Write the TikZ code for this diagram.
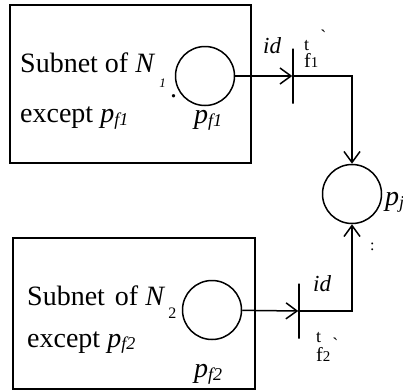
\documentclass[tikz,border=0pt]{standalone}
\usepackage{fontspec}
\setmainfont{Liberation Serif}
\usetikzlibrary{arrows.meta}
\newcommand{\lowsub}[3]{\raisebox{#1}{\fontsize{#2}{#2}\selectfont #3}}
\begin{document}
\begin{tikzpicture}[x=1pt,y=-1pt,
  place/.style={circle,draw,line width=1.5pt,minimum size=59pt,inner sep=0},
  trans/.style={draw,line width=1.5pt,minimum width=0pt,minimum height=55pt,inner sep=0},
  arc/.style={line width=1.5pt,-{Straight Barb[length=11pt,width=16pt,line width=1.5pt]}},
  lbl/.style={anchor=base west,inner sep=0,font=\fontsize{28}{30}\selectfont},
  sml/.style={anchor=base west,inner sep=0,font=\fontsize{22}{22}\selectfont}
]
\useasboundingbox (0,0) rectangle (403,391);
% boxes
\draw[line width=1.8pt] (10,5) rectangle (251,163);
\draw[line width=1.8pt] (13,238) rectangle (255,389);
% places and transitions
\node[place] (p1) at (205,76) {};
\node[place] (p2) at (212,310) {};
\node[place] (pj) at (352,194) {};
\node[trans] (t1) at (293,76) {};
\node[trans] (t2) at (299,311) {};
% arcs
\draw[arc] (p1) -- (t1);
\draw[arc] (p2) -- (t2);
\draw[arc] (t1.center) -| (pj);
\draw[arc] (t2.center) -| (pj);
% box 1 texts
\node[lbl] (s1) at (20,72) {Subnet of \textit{N}\hspace{4pt}\lowsub{-15pt}{13}{\itshape 1}};
\node[lbl] (d1) at (170,97) {.};
\node[lbl] (e1) at (20,122) {except \textit{p}\lowsub{-3pt}{18}{\itshape f1}};
\node[lbl] (q1) at (194,123) {\textit{p}\lowsub{-3pt}{18}{\itshape f1}};
% box 2 texts
\node[lbl] (s2) at (27,305) {Subnet\hspace{10pt}of \textit{N}\hspace{3pt}\lowsub{-13pt}{16}{2}};
\node[lbl] (e2) at (27,347) {except \textit{p}\lowsub{-2pt}{18}{\itshape f2}};
\node[lbl] (q2) at (194,377) {\textit{p}\lowsub{-3pt}{18}{\itshape f2}};
% transition labels
\node[sml,font=\fontsize{23}{24}\selectfont\itshape] (id1) at (263,53) {id};
\node[sml] (tf1) at (304,50) {\fontsize{18}{18}\selectfont t\hspace{-5pt}\lowsub{-17pt}{20}{f\fontsize{15}{15}\selectfont 1}\hspace{2pt}\lowsub{8pt}{18}{\textasciigrave}};
\node[sml,font=\fontsize{23}{24}\selectfont\itshape] (id2) at (313,291) {id};
\node[sml] (tf2) at (316,342) {\fontsize{18}{18}\selectfont t\hspace{-5pt}\lowsub{-19pt}{20}{f\fontsize{15}{15}\selectfont 2}\hspace{2pt}\lowsub{-8pt}{18}{\textasciigrave}};
% pj label
\node[lbl] (pjl) at (385,205) {\textit{p}\lowsub{-3pt}{18}{\itshape j}};
\node[sml,font=\fontsize{16}{16}\selectfont] (col) at (370,250) {:};
\end{tikzpicture}
\end{document}
